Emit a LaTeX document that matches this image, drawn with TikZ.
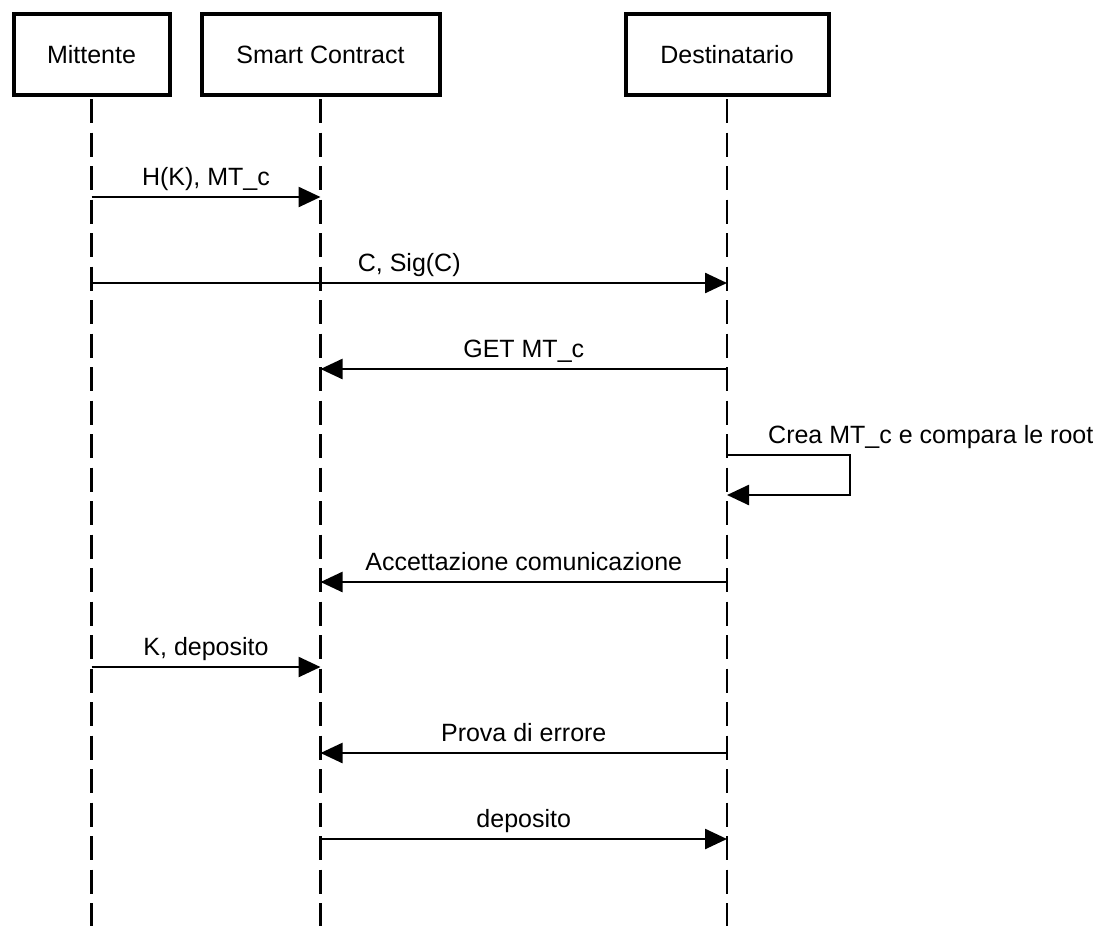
\documentclass[tikz,border=0pt]{standalone}
\usepackage{fontspec}
\setmainfont{Liberation Sans}
\usetikzlibrary{arrows.meta,backgrounds}
\begin{document}
\begin{tikzpicture}[x=1pt,y=-1pt,
  actor/.style={draw, fill=white, line width=4pt, minimum height=81pt,
    inner sep=0pt, font=\fontsize{25}{30}\selectfont},
  lifeline/.style={line width=2.5pt, dash pattern=on 24pt off 9.5pt},
  msg/.style={line width=2.5pt, -{Triangle[length=22pt,width=20pt]}},
  lbl/.style={font=\fontsize{25}{30}\selectfont, inner sep=0pt, anchor=base}
]
\useasboundingbox (0,0) rectangle (1107,926);

% participants
\node[actor, minimum width=156pt] (mit) at (91.5,54.5) {Mittente};
\node[actor, minimum width=238pt] (sc) at (320.5,54.5) {Smart Contract};
\node[actor, minimum width=203pt] (dst) at (727,54.5) {Destinatario};

% lifelines, behind the participant boxes
\coordinate (mitEnd) at (mit.south |- 0,926);
\coordinate (scEnd) at (sc.south |- 0,926);
\coordinate (dstEnd) at (dst.south |- 0,926);
\begin{scope}[on background layer]
\fill[white] (0,0) rectangle (1107,926);
\draw[lifeline] ([yshift=-2pt]mit.south) -- (mitEnd);
\draw[lifeline] ([yshift=-2pt]sc.south) -- (scEnd);
\draw[lifeline] ([yshift=-2pt]dst.south) -- (dstEnd);
\end{scope}

% message end points on the lifelines
\coordinate (m1a) at (mit.south |- 0,197);
\coordinate (m1b) at (sc.south |- 0,197);
\coordinate (m2a) at (mit.south |- 0,283);
\coordinate (m2b) at (dst.south |- 0,283);
\coordinate (m3a) at (dst.south |- 0,369);
\coordinate (m3b) at (sc.south |- 0,369);
\coordinate (m4a) at (dst.south |- 0,455);
\coordinate (m4b) at (dst.south |- 0,495);
\coordinate (m5a) at (dst.south |- 0,582);
\coordinate (m5b) at (sc.south |- 0,582);
\coordinate (m6a) at (mit.south |- 0,667);
\coordinate (m6b) at (sc.south |- 0,667);
\coordinate (m7a) at (dst.south |- 0,753);
\coordinate (m7b) at (sc.south |- 0,753);
\coordinate (m8a) at (sc.south |- 0,839);
\coordinate (m8b) at (dst.south |- 0,839);

% messages
\draw[msg] (m1a) -- node[lbl, yshift=12pt] {H(K), MT\_c} (m1b);
\draw[msg] (m2a) -- node[lbl, yshift=12pt] {C, Sig(C)} (m2b);
\draw[msg] (m3a) -- node[lbl, yshift=12pt] {GET MT\_c} (m3b);
\draw[msg] (m4a) -- ++(123,0) -- ++(0,40) -- (m4b);
\node[lbl, anchor=base west] (m4l) at (768,443) {Crea MT\_c e compara le root};
\draw[msg] (m5a) -- node[lbl, yshift=12pt] {Accettazione comunicazione} (m5b);
\draw[msg] (m6a) -- node[lbl, yshift=12pt] {K, deposito} (m6b);
\draw[msg] (m7a) -- node[lbl, yshift=12pt] {Prova di errore} (m7b);
\draw[msg] (m8a) -- node[lbl, yshift=12pt] {deposito} (m8b);
\end{tikzpicture}
\end{document}
